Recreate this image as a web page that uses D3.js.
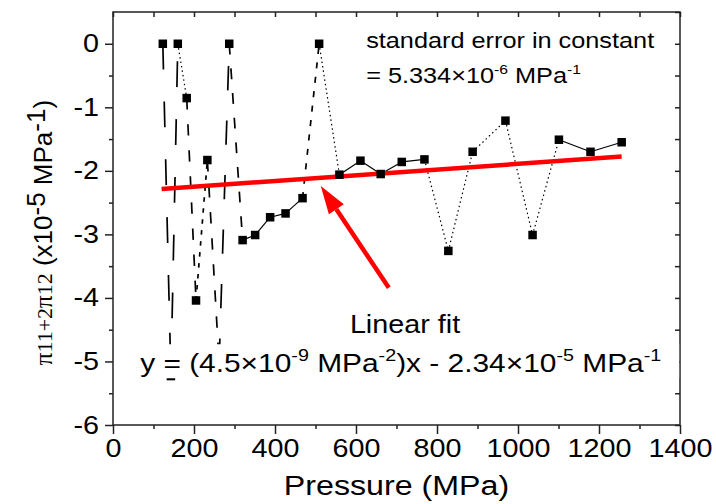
<!DOCTYPE html>
<html>
<head>
<meta charset="utf-8">
<script src="https://cdn.jsdelivr.net/npm/d3@7"></script>
<style>
  body { margin: 0; background: #fff; }
  svg { display: block; }
</style>
</head>
<body>
<div id="chart"></div>
<script>
// pressure (MPa) and pi11+2pi12 (x1e-5 MPa^-1)
var pressure = [123, 143, 160, 182, 205, 233, 262, 287, 320, 351, 388, 426, 468, 509,
                559, 611, 661, 713, 769, 828, 888, 969, 1036, 1101, 1179, 1256];
var piSum    = [0, -5.23, 0, -0.855, -4.04, -1.83, -5.02, 0, -3.09, -3.01, -2.73, -2.67, -2.43, 0,
                -2.06, -1.84, -2.05, -1.86, -1.82, -3.26, -1.70, -1.21, -3.01, -1.51, -1.70, -1.55];

// linear fit y = (4.5e-9 MPa^-2)x - 2.34e-5 MPa^-1, in units of 1e-5
var fitSlope = 0.00045;
var fitIntercept = -2.34;
var fitRange = [120, 1256];

var xTicks = [0, 200, 400, 600, 800, 1000, 1200, 1400];
var xMinor = [100, 300, 500, 700, 900, 1100, 1300];
var xTop = d3.range(0, 1401, 100);
var yTicks = [0, -1, -2, -3, -4, -5, -6];
var yMinor = [-0.5, -1.5, -2.5, -3.5, -4.5, -5.5];
var yRight = d3.range(-6, 0.51, 0.5);

// annotation anchors in data units
var arrowTip = [513, -2.24], arrowTail = [681, -3.84];
var linFitPos = [721, -4.55];
var eqPos = [67, -5.17];
var errPos = [625, -0.07, -0.62];

var W = 716, H = 504;
var mLeft = 113, mRight = 680, mTop = 12, mBottom = 425;
var SX = 1.15;
var SANS = "'Liberation Sans', Arial, sans-serif";

var svg = d3.select("#chart").append("svg")
  .attr("width", W)
  .attr("height", H)
  .style("background", "#fff");

var x = d3.scaleLinear().domain([0, 1400]).range([mLeft, mRight]);
var y = d3.scaleLinear().domain([-6, 0.5]).range([mBottom, mTop]);

// axes
function styleAxis(g) {
  g.select(".domain").remove();
  g.selectAll("line").attr("stroke", "#222").attr("stroke-width", 1.5);
}

var gx = svg.append("g").attr("transform", "translate(0," + mBottom + ")")
  .call(d3.axisBottom(x).tickValues(xTicks).tickSize(9).tickPadding(5).tickFormat(function(d) { return String(d); }));
styleAxis(gx);
gx.selectAll("text")
  .attr("font-size", 25).attr("font-family", SANS).attr("fill", "#000")
  .attr("transform", "scale(" + SX + ",1)");

svg.append("g").attr("transform", "translate(0," + mBottom + ")")
  .call(d3.axisBottom(x).tickValues(xMinor).tickSize(4).tickFormat(""))
  .call(styleAxis);

var gy = svg.append("g").attr("transform", "translate(" + mLeft + ",0)")
  .call(d3.axisLeft(y).tickValues(yTicks).tickSize(8).tickFormat(function(d) { return String(d); }));
styleAxis(gy);
gy.selectAll("text")
  .attr("font-size", 25).attr("font-family", SANS).attr("fill", "#000")
  .attr("x", -14 / SX)
  .attr("transform", "scale(" + SX + ",1)");

svg.append("g").attr("transform", "translate(" + mLeft + ",0)")
  .call(d3.axisLeft(y).tickValues(yMinor).tickSize(4).tickFormat(""))
  .call(styleAxis);

svg.append("g").attr("transform", "translate(" + mRight + ",0)")
  .call(d3.axisLeft(y).tickValues(yRight).tickSize(5).tickFormat(""))
  .call(styleAxis);

svg.append("g").attr("transform", "translate(0," + mTop + ")")
  .call(d3.axisBottom(x).tickValues(xTop).tickSize(5).tickFormat(""))
  .call(styleAxis);

svg.append("rect")
  .attr("x", mLeft).attr("y", mTop)
  .attr("width", mRight - mLeft).attr("height", mBottom - mTop)
  .attr("fill", "none").attr("stroke", "#222").attr("stroke-width", 1.5);

// connecting line, one segment at a time so the dash follows the segment length
var pts = pressure.map(function(p, i) { return [x(p), y(piSum[i])]; });
var gl = svg.append("g");
for (var i = 0; i < pts.length - 1; i++) {
  var a = pts[i], b = pts[i + 1];
  var len = Math.hypot(b[0] - a[0], b[1] - a[1]);
  var dash, w = 1.2;
  if (len < 35) dash = null;
  else if (len < 135) dash = "1.5,3";
  else {
    var dd = (len - 100) / 9;
    dash = dd.toFixed(1) + "," + (dd * 1.2 + 1).toFixed(1);
    w = 1.7;
  }
  gl.append("line")
    .attr("x1", a[0]).attr("y1", a[1]).attr("x2", b[0]).attr("y2", b[1])
    .attr("stroke", "#000").attr("stroke-width", w)
    .attr("stroke-dasharray", dash);
}

// linear fit
var fitLine = d3.line()
  .x(function(d) { return x(d); })
  .y(function(d) { return y(fitSlope * d + fitIntercept); });
svg.append("path")
  .datum(fitRange)
  .attr("fill", "none")
  .attr("stroke", "#ff0000")
  .attr("stroke-width", 4.5)
  .attr("d", fitLine);

// markers
var ms = 8.5;
svg.append("g").selectAll("rect")
  .data(pts)
  .enter().append("rect")
    .attr("x", function(d) { return d[0] - ms / 2; })
    .attr("y", function(d) { return d[1] - ms / 2; })
    .attr("width", ms).attr("height", ms)
    .attr("fill", "#000");

// red arrow
var tx = x(arrowTip[0]), ty = y(arrowTip[1]);
var sx = x(arrowTail[0]), sy = y(arrowTail[1]);
var ang = Math.atan2(ty - sy, tx - sx);
var headLen = 28, headW = 9;
var bx = tx - headLen * Math.cos(ang), by = ty - headLen * Math.sin(ang);
svg.append("line")
  .attr("x1", sx).attr("y1", sy).attr("x2", bx).attr("y2", by)
  .attr("stroke", "#ff0000").attr("stroke-width", 4.5);
svg.append("path")
  .attr("d", "M" + tx + "," + ty +
    "L" + (bx + headW * Math.sin(ang)) + "," + (by - headW * Math.cos(ang)) +
    "L" + (bx - headW * Math.sin(ang)) + "," + (by + headW * Math.cos(ang)) + "Z")
  .attr("fill", "#ff0000");

// text helper: parts are [string, "sup"|null]
function richText(px, py, size, parts, anchor, supScale) {
  supScale = supScale || 0.62;
  var g = svg.append("g").attr("transform", "translate(" + px + "," + py + ") scale(" + SX + ",1)");
  var t = g.append("text")
    .attr("font-family", SANS).attr("font-size", size).attr("fill", "#000")
    .attr("text-anchor", anchor || "start");
  var raised = false;
  parts.forEach(function(p) {
    var ts = t.append("tspan").text(p[0]);
    if (p[1] === "sup") {
      ts.attr("font-size", size * supScale).attr("dy", raised ? 0 : -size * 0.42);
      raised = true;
    } else if (raised) {
      ts.attr("dy", size * 0.42);
      raised = false;
    }
  });
  return g;
}

richText(x(errPos[0]), y(errPos[1]), 22, [["standard error in constant"]]);
richText(x(errPos[0]), y(errPos[2]), 22, [["= 5.334\u00d710"], ["-6", "sup"], [" MPa"], ["-1", "sup"]]);

richText(x(linFitPos[0]), y(linFitPos[1]), 25, [["Linear fit"]], "middle");

// white box behind the equation, as in the original
svg.append("rect")
  .attr("x", x(eqPos[0]) - 6).attr("y", y(eqPos[1]) - 28)
  .attr("width", 545).attr("height", 34)
  .attr("fill", "#fff");
richText(x(eqPos[0]), y(eqPos[1]), 26, [["y = (4.5\u00d710"], ["-9", "sup"], [" MPa"], ["-2", "sup"],
  [")x - 2.34\u00d710"], ["-5", "sup"], [" MPa"], ["-1", "sup"]], "start", 0.66);

// axis titles
richText((mLeft + mRight) / 2, 495, 28, [["Pressure (MPa)"]], "middle");

var yl = svg.append("text")
  .attr("transform", "translate(52," + ((mTop + mBottom) / 2 + 14) + ") rotate(-90)")
  .attr("text-anchor", "middle")
  .attr("font-family", SANS).attr("font-size", 26).attr("fill", "#000");
yl.append("tspan").attr("font-family", "'Liberation Serif', serif").attr("font-size", 25).text("\u03c0");
yl.append("tspan").attr("font-family", "'Liberation Serif', serif").attr("font-size", 22).text("11+2");
yl.append("tspan").attr("font-family", "'Liberation Serif', serif").attr("font-size", 25).text("\u03c0");
yl.append("tspan").attr("font-family", "'Liberation Serif', serif").attr("font-size", 22).text("12");
yl.append("tspan").text(" (x10");
yl.append("tspan").attr("dy", -7).text("-5");
yl.append("tspan").attr("dy", 7).text(" MPa");
yl.append("tspan").attr("dy", -7).text("-1");
yl.append("tspan").attr("dy", 7).text(")");
</script>
</body>
</html>
